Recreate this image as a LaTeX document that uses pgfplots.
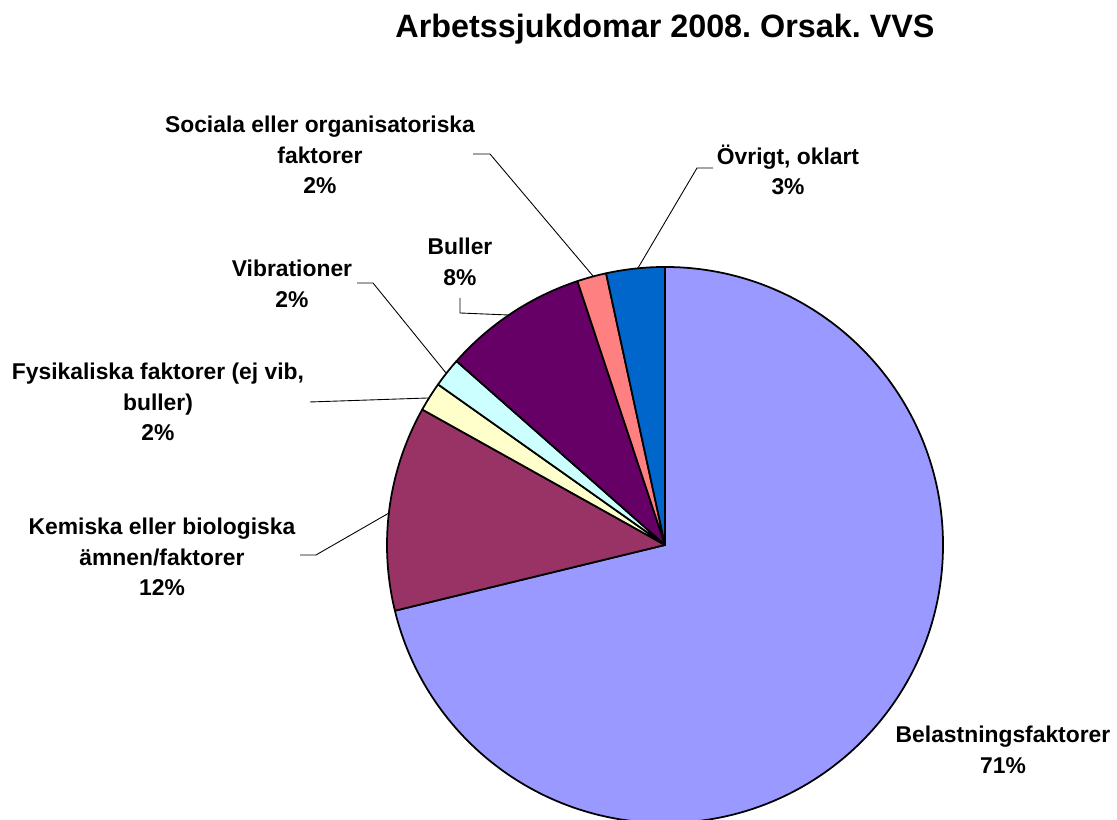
\documentclass[border=0pt]{standalone}
\usepackage{pgfplots}
\pgfplotsset{compat=1.18}
\usepackage{pgfplotstable}
\usepackage{fontspec}
\setmainfont{Liberation Sans}
\frenchspacing

\definecolor{belast}{HTML}{9999FF}
\definecolor{kemisk}{HTML}{993366}
\definecolor{fysik}{HTML}{FFFFCC}
\definecolor{vibr}{HTML}{CCFFFF}
\definecolor{buller}{HTML}{660066}
\definecolor{social}{HTML}{FF8080}
\definecolor{ovrigt}{HTML}{0066CC}

% share of each cause (percent), clockwise from 12 o'clock
\pgfplotstableread{
share colour
71.2  belast
11.9  kemisk
1.7   fysik
1.7   vibr
8.4   buller
1.7   social
3.4   ovrigt
}\piedata

\newcommand\lbl{\fontsize{13}{17.4}\selectfont\bfseries}

\begin{document}
\begin{tikzpicture}
\begin{axis}[
  width=22.34cm, height=16.4cm, scale only axis,
  xmin=0, xmax=1117, ymin=0, ymax=820,
  axis lines=none, ticks=none, clip=false,
]
\pgfplotsextra{
  \pgfplotstablegetrowsof{\piedata}
  \pgfmathtruncatemacro\lastrow{\pgfplotsretval-1}
  \gdef\cumshare{0}
  \foreach \i in {0,...,\lastrow}{
    \pgfplotstablegetelem{\i}{share}\of\piedata
    \let\share\pgfplotsretval
    \pgfplotstablegetelem{\i}{colour}\of\piedata
    \let\slicecol\pgfplotsretval
    \pgfmathsetmacro\sa{90-3.6*\cumshare}
    \pgfmathsetmacro\ea{\sa-3.6*\share}
    \filldraw[fill=\slicecol, draw=black, line width=1pt, line join=round]
      (axis cs:665,275) -- ++(\sa:5.56cm)
      arc[start angle=\sa, end angle=\ea, radius=5.56cm] -- cycle;
    \pgfmathsetmacro\newcum{\cumshare+\share}
    \xdef\cumshare{\newcum}
  }
}

% leader lines
\draw[line width=0.5pt] (473,666) -- (490,666) -- (593,544);
\draw[line width=0.5pt] (713,652) -- (697,652) -- (638,552);
\draw[line width=0.5pt] (460,522) -- (460,507) -- (508,505);
\draw[line width=0.5pt] (357,537) -- (373,537) -- (446,447);
\draw[line width=0.5pt] (310,418) -- (428,422);
\draw[line width=0.5pt] (300,265) -- (316,265) -- (389,307);

% labels
\node[font={\fontsize{18.4}{22}\selectfont\bfseries}] at (665,791) {Arbetssjukdomar 2008. Orsak. VVS};
\node[align=center, font=\lbl] at (320,665) {Sociala eller organisatoriska\\faktorer\\2\%};
\node[align=center, font=\lbl] at (788,650) {Övrigt, oklart\\3\%};
\node[align=center, font=\lbl] at (460,558) {Buller\\8\%};
\node[align=center, font=\lbl] at (292,536) {Vibrationer\\2\%};
\node[align=center, font=\lbl] at (158,418) {Fysikaliska faktorer (ej vib,\\buller)\\2\%};
\node[align=center, font=\lbl] at (162,263) {Kemiska eller biologiska\\ämnen/faktorer\\12\%};
\node[align=center, font=\lbl] at (1003,70) {Belastningsfaktorer\\71\%};
\end{axis}
\pgfresetboundingbox
\useasboundingbox (current axis.south west) rectangle (current axis.north east);
\end{tikzpicture}
\end{document}
